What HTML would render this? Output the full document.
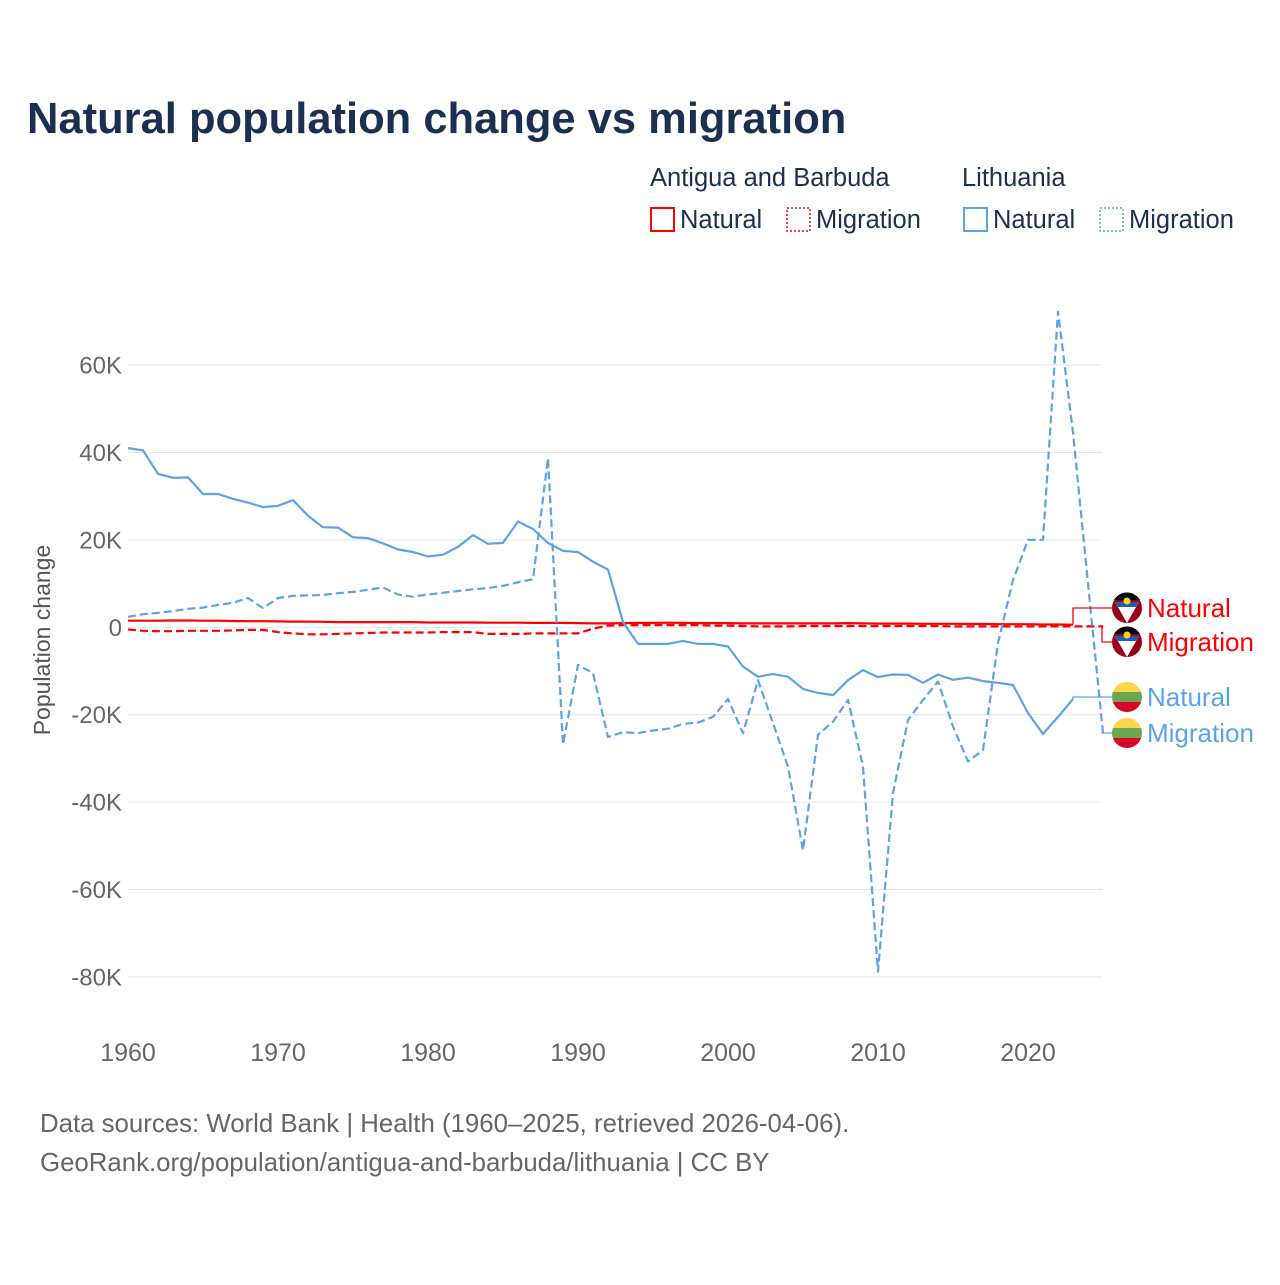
<!DOCTYPE html>
<html><head><meta charset="utf-8"><style>
body{margin:0;background:#fff;font-family:"Liberation Sans",sans-serif}
svg text{font-family:"Liberation Sans",sans-serif}
</style></head><body>
<svg id="c" width="1280" height="1280" viewBox="0 0 1280 1280">
<text x="27" y="133" font-size="43.5" font-weight="bold" fill="#1b3050">Natural population change vs migration</text>
<g font-size="25.5" fill="#1b3050">
<text x="650" y="186">Antigua and Barbuda</text>
<text x="962" y="186">Lithuania</text>
<rect x="651" y="208" width="23" height="23" fill="none" stroke="#f00" stroke-width="2"/>
<text x="680" y="228">Natural</text>
<rect x="787" y="208" width="23" height="23" fill="none" stroke="#f00" stroke-width="1.5" stroke-dasharray="2 2"/>
<text x="816" y="228">Migration</text>
<rect x="964" y="208" width="23" height="23" fill="none" stroke="#5ba3e8" stroke-width="2"/>
<text x="993" y="228">Natural</text>
<rect x="1100" y="208" width="23" height="23" fill="none" stroke="#5ba3e8" stroke-width="1.5" stroke-dasharray="2 2"/>
<text x="1129" y="228">Migration</text>
</g>
<g id="grid"></g>
<g id="axes"></g>
<g id="lines"></g>
<g id="labels"></g>
<text transform="translate(50,640) rotate(-90)" text-anchor="middle" font-size="23" fill="#555">Population change</text>
<text x="40" y="1132" font-size="25.8" fill="#666">Data sources: World Bank | Health (1960–2025, retrieved 2026-04-06).</text>
<text x="40" y="1171" font-size="25.8" fill="#666">GeoRank.org/population/antigua-and-barbuda/lithuania | CC BY</text>
</svg>
<script>
const yTicks=[60,40,20,0,-20,-40,-60,-80];
const yTickLabels=["60K","40K","20K","0","-20K","-40K","-60K","-80K"];
const xTicks=[1960,1970,1980,1990,2000,2010,2020];
const startYear=1960;
const ltNatural=[41,40.5,35.1,34.2,34.3,30.5,30.5,29.4,28.5,27.5,27.8,29.1,25.5,22.9,22.8,20.6,20.4,19.2,17.8,17.2,16.2,16.6,18.4,21.1,19.1,19.3,24.2,22.5,19.3,17.5,17.2,15.0,13.2,1.2,-3.8,-3.8,-3.8,-3.1,-3.8,-3.8,-4.4,-9.0,-11.3,-10.7,-11.3,-14.1,-15.0,-15.5,-12.1,-9.8,-11.4,-10.8,-10.9,-12.7,-10.8,-12.0,-11.5,-12.3,-12.7,-13.2,-19.6,-24.4,-20.5,-16.4];
const ltMigration=[2.4,3.0,3.3,3.7,4.2,4.5,5.1,5.6,6.7,4.4,6.7,7.2,7.3,7.4,7.8,8.1,8.6,9.1,7.5,7.0,7.5,7.9,8.3,8.7,9.0,9.5,10.3,11.0,38.7,-26.8,-8.6,-10.5,-25.1,-24.0,-24.2,-23.6,-23.2,-22.1,-21.8,-20.5,-16.4,-24.2,-12.1,-21.9,-31.9,-51.0,-24.6,-21.6,-16.6,-31.9,-78.8,-37.9,-21.2,-16.6,-12.4,-22.7,-30.7,-28.1,-3.6,10.8,20.0,20.0,72.2,44.6,10.0,-24.2];
const agNatural=[1.5,1.5,1.5,1.55,1.55,1.5,1.5,1.45,1.4,1.4,1.35,1.3,1.3,1.25,1.2,1.2,1.2,1.2,1.2,1.2,1.1,1.1,1.1,1.1,1.05,1.05,1.05,1.0,1.0,1.0,0.95,0.9,0.9,0.95,1.0,1.0,1.05,1.0,0.95,0.95,0.95,0.9,0.9,0.9,0.9,0.9,0.9,0.9,0.95,0.9,0.85,0.85,0.85,0.8,0.8,0.8,0.75,0.75,0.7,0.7,0.7,0.65,0.65,0.6];
const agMigration=[-0.5,-0.8,-0.9,-0.9,-0.8,-0.8,-0.8,-0.7,-0.6,-0.6,-1.1,-1.4,-1.6,-1.6,-1.5,-1.4,-1.3,-1.2,-1.2,-1.2,-1.2,-1.1,-1.1,-1.1,-1.5,-1.5,-1.5,-1.4,-1.4,-1.4,-1.4,-0.3,0.4,0.5,0.5,0.5,0.5,0.5,0.5,0.4,0.4,0.3,0.2,0.2,0.2,0.3,0.3,0.3,0.3,0.3,0.3,0.3,0.3,0.3,0.3,0.2,0.2,0.2,0.2,0.2,0.2,0.2,0.2,0.2,0.2,0.2];
const NS='http://www.w3.org/2000/svg';
const X=y=>128+(y-1960)*15;
const Y=v=>627.3-v*4.371;
function mk(tag,attrs,parent){const e=document.createElementNS(NS,tag);for(const k in attrs)e.setAttribute(k,attrs[k]);document.getElementById(parent).appendChild(e);return e;}
yTicks.forEach((t,i)=>{
 const l=mk('line',{x1:128,x2:1102,y1:Y(t),y2:Y(t),stroke:'#e6e6e6','stroke-width':1},'grid');
 
 
 const tx=mk('text',{x:122,y:Y(t)+8.5,'text-anchor':'end','font-size':24,fill:'#666'},'axes');
 tx.textContent=yTickLabels[i];
 
 
});
xTicks.forEach(t=>{
 const tx=mk('text',{x:X(t),y:1061,'text-anchor':'middle','font-size':25,fill:'#666'},'axes');
 tx.textContent=t;
 
 
});
function line(arr,color,dash,name){
 const d=arr.map((v,i)=>(i?'L':'M')+X(startYear+i).toFixed(1)+','+Y(v).toFixed(1)).join('');
 const p=mk('path',{d:d,fill:'none',stroke:color,'stroke-width':2.2,'stroke-dasharray':dash||'none','stroke-linejoin':'round'},'lines');
 
 
}
line(agMigration,'#f00','8 4','line-ag-migration');
line(agNatural,'#f00','','line-ag-natural');
line(ltMigration,'#5ba3e8','8 4','line-lt-migration');
line(ltNatural,'#5ba3e8','','line-lt-natural');
function endLabel(arr,color,ly,txt,name,flag){
 const i=arr.length-1, ex=X(startYear+i), ey=Y(arr[i]);
 const c=mk('path',{d:`M${ex},${ey}H${ex<1100?ex:1102}V${ly}H1112`,fill:'none',stroke:color,'stroke-width':1.3},'labels');
 
 
 const g=mk('g',{},'labels');
 
 
 const cx=1127;
 if(flag==='ag'){
  g.innerHTML=`<circle cx="${cx}" cy="${ly}" r="15" fill="#9a0018"/><path d="M${cx-13},${ly-8}A15 15 0 0 1 ${cx+13},${ly-8}Z" fill="#000"/><path d="M${cx-12},${ly-6}H${cx+12}L${cx},${ly+15}Z" fill="#fff"/><path d="M${cx-12},${ly-6}H${cx+12}L${cx+9},${ly-1}H${cx-9}Z" fill="#1a5fb4"/><circle cx="${cx}" cy="${ly-7}" r="3.5" fill="#fcd116"/>`;
 } else {
  g.innerHTML=`<clipPath id="cl${ly}"><circle cx="${cx}" cy="${ly}" r="15"/></clipPath><g clip-path="url(#cl${ly})"><rect x="${cx-15}" y="${ly-15}" width="30" height="10" fill="#fdd54a"/><rect x="${cx-15}" y="${ly-5}" width="30" height="10" fill="#6aa84f"/><rect x="${cx-15}" y="${ly+5}" width="30" height="10" fill="#d7062a"/></g>`;
 }
 const t=mk('text',{x:1147,y:ly+9,'font-size':26,fill:color},'labels');
 t.textContent=txt;
 
 
}
endLabel(agNatural,'#f00',608,'Natural','label-ag-natural','ag');
endLabel(agMigration,'#f00',642,'Migration','label-ag-migration','ag');
endLabel(ltNatural,'#5ba3e8',697,'Natural','label-lt-natural','lt');
endLabel(ltMigration,'#5ba3e8',733,'Migration','label-lt-migration','lt');
</script>
</body></html>
